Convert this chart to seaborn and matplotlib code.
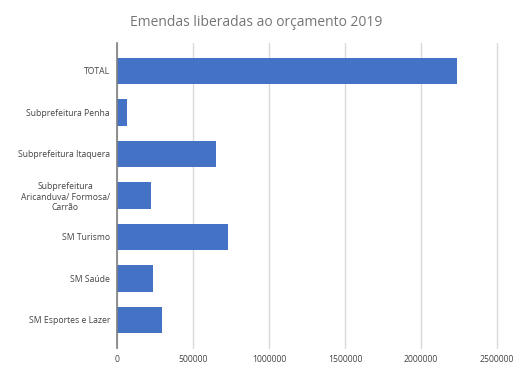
import matplotlib.pyplot as plt
import pandas as pd
import seaborn as sns

CATEGORIES = [
    "TOTAL",
    "Subprefeitura Penha",
    "Subprefeitura Itaquera",
    "Subprefeitura\nAricanduva/ Formosa/\nCarrão",
    "SM Turismo",
    "SM Saúde",
    "SM Esportes e Lazer",
]
VALUES = [2237000, 66000, 651000, 224000, 730000, 237000, 296000]
X_TICKS = [0, 500000, 1000000, 1500000, 2000000, 2500000]

BAR_COLOR = "#4472C4"
TEXT_COLOR = "#444444"

sns.set_theme(style="white")
plt.rcParams["font.family"] = ["Open Sans", "DejaVu Sans"]

df = pd.DataFrame({"categoria": CATEGORIES, "valor": VALUES})

fig = plt.figure(figsize=(5.16, 3.77), dpi=100)
ax = fig.add_axes([0.2267, 0.077, 0.7365, 0.809])

sns.barplot(data=df, x="valor", y="categoria", orient="h", color=BAR_COLOR,
            saturation=1, width=0.63, linewidth=0, ax=ax, zorder=3)

ax.set_xlim(0, 2500000)
ax.set_ylim(6.675, -0.675)
ax.set_xticks(X_TICKS)
ax.set_xticklabels([str(t) for t in X_TICKS], fontsize=6.2, color=TEXT_COLOR)
ax.set_yticks(range(len(CATEGORIES)))
ax.set_yticklabels(CATEGORIES, fontsize=6.2, color=TEXT_COLOR, multialignment="center")
ax.tick_params(axis="both", length=0, pad=5)
ax.set_xlabel("")
ax.set_ylabel("")

ax.grid(axis="x", color="#d9d9d9", linewidth=1, zorder=0)
for gl in ax.get_xgridlines():
    gl.set_clip_on(False)
for side in ["top", "right", "bottom"]:
    ax.spines[side].set_visible(False)
ax.spines["left"].set_color("#7f7f7f")
ax.spines["left"].set_linewidth(1.2)
ax.spines["left"].set_zorder(4)

fig.suptitle("Emendas liberadas ao orçamento 2019", x=0.497, y=0.96,
             fontsize=10, color="#757575")

fig.savefig("out.png", dpi=100)
